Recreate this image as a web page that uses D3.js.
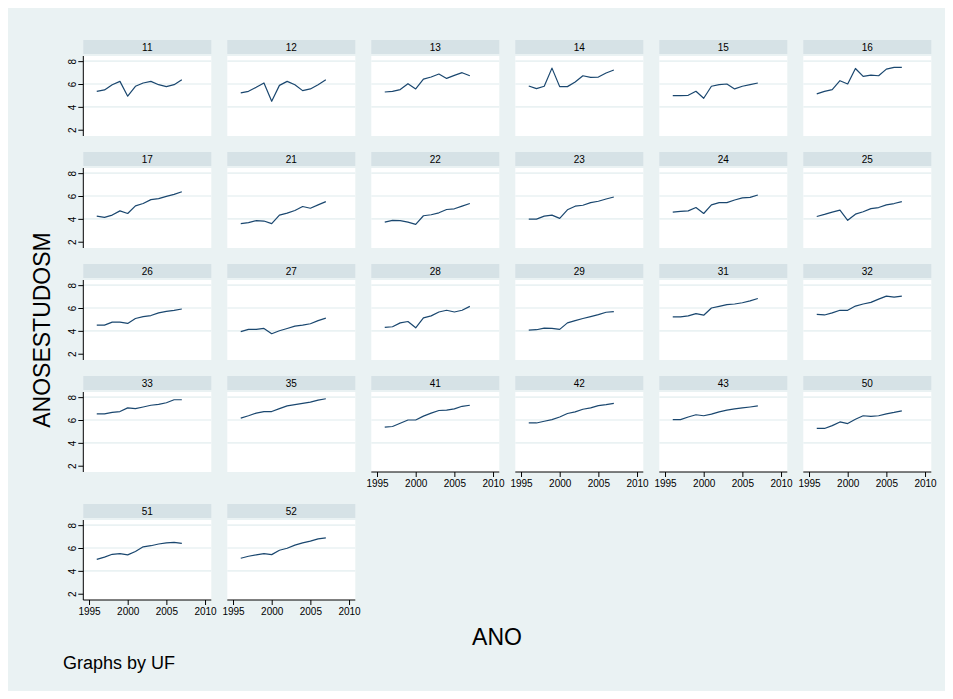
<!DOCTYPE html>
<html>
<head>
<meta charset="utf-8">
<script src="https://cdn.jsdelivr.net/npm/d3@7"></script>
<style>
  html, body { margin: 0; padding: 0; background: #ffffff; }
  svg { display: block; font-family: "Liberation Sans", Arial, sans-serif; }
</style>
</head>
<body>
<svg id="chart" width="953" height="699"></svg>
<script>
// Average years of schooling (ANOSESTUDOSM) by state code (UF), 1996-2007
const years = [1996, 1997, 1998, 1999, 2000, 2001, 2002, 2003, 2004, 2005, 2006, 2007];
const ufCodes = ["11","12","13","14","15","16","17","21","22","23","24","25","26",
                 "27","28","29","31","32","33","35","41","42","43","50","51","52"];

const uf11 = [5.36, 5.48, 5.94, 6.23, 4.93, 5.80, 6.09, 6.23, 5.94, 5.77, 5.94, 6.38];
const uf12 = [5.22, 5.36, 5.71, 6.09, 4.49, 5.88, 6.23, 5.94, 5.42, 5.57, 5.94, 6.38];
const uf13 = [5.30, 5.36, 5.51, 6.03, 5.57, 6.43, 6.61, 6.87, 6.49, 6.75, 6.99, 6.72];
const uf14 = [5.83, 5.59, 5.80, 7.39, 5.77, 5.77, 6.17, 6.72, 6.58, 6.61, 6.96, 7.22];
const uf15 = [4.99, 4.99, 5.01, 5.36, 4.75, 5.80, 5.94, 6.00, 5.57, 5.80, 5.94, 6.09];
const uf16 = [5.13, 5.36, 5.51, 6.29, 6.00, 7.36, 6.67, 6.78, 6.72, 7.30, 7.45, 7.45];
const uf17 = [4.24, 4.13, 4.33, 4.70, 4.47, 5.14, 5.34, 5.68, 5.77, 5.97, 6.14, 6.37];
const uf21 = [3.58, 3.67, 3.84, 3.81, 3.58, 4.33, 4.50, 4.73, 5.08, 4.93, 5.22, 5.51];
const uf22 = [3.72, 3.87, 3.84, 3.72, 3.52, 4.27, 4.36, 4.53, 4.82, 4.88, 5.11, 5.34];
const uf23 = [3.98, 3.98, 4.24, 4.33, 4.04, 4.79, 5.11, 5.19, 5.42, 5.54, 5.74, 5.91];
const uf24 = [4.59, 4.65, 4.70, 4.99, 4.47, 5.22, 5.42, 5.42, 5.65, 5.83, 5.88, 6.09];
const uf25 = [4.21, 4.39, 4.59, 4.76, 3.87, 4.41, 4.62, 4.90, 4.99, 5.22, 5.34, 5.51];
const uf26 = [4.50, 4.50, 4.76, 4.76, 4.65, 5.08, 5.25, 5.34, 5.57, 5.71, 5.80, 5.91];
const uf27 = [3.93, 4.13, 4.13, 4.21, 3.75, 4.01, 4.21, 4.41, 4.50, 4.62, 4.90, 5.11];
const uf28 = [4.30, 4.36, 4.70, 4.82, 4.27, 5.14, 5.31, 5.65, 5.80, 5.65, 5.80, 6.14];
const uf29 = [4.07, 4.10, 4.24, 4.21, 4.13, 4.70, 4.90, 5.08, 5.25, 5.42, 5.63, 5.68];
const uf31 = [5.22, 5.22, 5.31, 5.51, 5.37, 6.00, 6.14, 6.29, 6.35, 6.46, 6.63, 6.83];
const uf32 = [5.45, 5.39, 5.57, 5.80, 5.80, 6.17, 6.35, 6.49, 6.78, 7.04, 6.95, 7.04];
const uf33 = [6.54, 6.54, 6.66, 6.74, 7.06, 7.00, 7.14, 7.29, 7.37, 7.51, 7.77, 7.77];
const uf35 = [6.17, 6.37, 6.60, 6.74, 6.74, 7.00, 7.23, 7.34, 7.46, 7.57, 7.74, 7.86];
const uf41 = [5.37, 5.43, 5.71, 6.00, 6.00, 6.34, 6.60, 6.83, 6.86, 6.97, 7.20, 7.29];
const uf42 = [5.74, 5.74, 5.89, 6.03, 6.26, 6.57, 6.71, 6.94, 7.06, 7.26, 7.34, 7.46];
const uf43 = [6.03, 6.03, 6.26, 6.46, 6.37, 6.51, 6.71, 6.86, 6.97, 7.06, 7.14, 7.23];
const uf50 = [5.26, 5.26, 5.51, 5.83, 5.69, 6.06, 6.37, 6.31, 6.37, 6.54, 6.66, 6.80];
const uf51 = [5.00, 5.20, 5.45, 5.50, 5.40, 5.70, 6.10, 6.20, 6.35, 6.45, 6.50, 6.40];
const uf52 = [5.10, 5.28, 5.40, 5.50, 5.42, 5.80, 5.98, 6.25, 6.45, 6.60, 6.80, 6.88];

const yTicks = [2, 4, 6, 8];
const yGrid = [4, 6, 8];
const xTicks = [1995, 2000, 2005, 2010];

const seriesByUf = [uf11, uf12, uf13, uf14, uf15, uf16, uf17, uf21, uf22, uf23, uf24, uf25, uf26,
                    uf27, uf28, uf29, uf31, uf32, uf33, uf35, uf41, uf42, uf43, uf50, uf51, uf52];

const panels = ufCodes.map((code, i) => ({
  code,
  values: years.map((yr, j) => ({ year: yr, value: seriesByUf[i][j] }))
}));

// ---- layout ----
const W = 953, H = 699;
const nCols = 6;
const colLeft0 = 83.3, colStep = 144, plotW = 128;
const rowTops = [40, 152, 264, 376, 504];
const stripH = 14, stripGap = 2, plotH = 80;

const colors = {
  outer: "#ffffff",
  region: "#eaf2f3",
  strip: "#d6e2e6",
  plot: "#ffffff",
  grid: "#eaf2f3",
  line: "#1a476f",
  axis: "#000000",
  text: "#000000"
};

const svg = d3.select("#chart");
svg.append("rect").attr("width", W).attr("height", H).attr("fill", colors.outer);
svg.append("rect").attr("x", 8).attr("y", 8).attr("width", 937).attr("height", 683)
  .attr("fill", colors.region);

const lineGen = d3.line();

panels.forEach((p, i) => {
  const r = Math.floor(i / nCols), c = i % nCols;
  const left = colLeft0 + colStep * c;
  const stripTop = rowTops[r];
  const plotTop = stripTop + stripH + stripGap;
  const plotBottom = plotTop + plotH;

  const x = d3.scaleLinear().domain([1994.26, 2010.81]).range([left, left + plotW]);
  const y = d3.scaleLinear().domain([1.45, 8.45]).range([plotBottom, plotTop]);

  const g = svg.append("g").attr("class", "panel");

  // strip with the UF code
  g.append("rect").attr("x", left).attr("y", stripTop).attr("width", plotW).attr("height", stripH)
    .attr("fill", colors.strip);
  g.append("text").attr("x", left + plotW / 2).attr("y", stripTop + stripH / 2).attr("dy", "0.36em")
    .attr("text-anchor", "middle").attr("font-size", 10).attr("fill", colors.text).text(p.code);

  // plot region and grid
  g.append("rect").attr("x", left).attr("y", plotTop).attr("width", plotW).attr("height", plotH)
    .attr("fill", colors.plot);
  g.selectAll("line.grid").data(yGrid).join("line").attr("class", "grid")
    .attr("x1", left).attr("x2", left + plotW)
    .attr("y1", d => y(d)).attr("y2", d => y(d))
    .attr("stroke", colors.grid).attr("stroke-width", 1.6);

  // series line
  g.append("path")
    .attr("d", lineGen(p.values.map(d => [x(d.year), y(d.value)])))
    .attr("fill", "none").attr("stroke", colors.line).attr("stroke-width", 1.2)
    .attr("stroke-linejoin", "round");

  // y axis on the first column
  if (c === 0) {
    const ya = d3.axisLeft(y).tickValues(yTicks).tickSize(5).tickPadding(3).tickFormat(d3.format("d"));
    const ag = g.append("g").attr("transform", `translate(${left},0)`).call(ya);
    ag.select(".domain").attr("d", `M0,${plotTop}V${plotBottom}`).attr("stroke", colors.axis);
    ag.selectAll(".tick line").attr("stroke", colors.axis);
    ag.selectAll(".tick text")
      .attr("font-size", 10).attr("font-family", "Liberation Sans, Arial, sans-serif")
      .attr("fill", colors.text)
      .attr("x", null).attr("dy", null)
      .attr("text-anchor", "middle")
      .attr("transform", "translate(-7,0) rotate(-90)");
  }

  // x axis on the bottom panel of each column
  if (i + nCols >= panels.length) {
    const xa = d3.axisBottom(x).tickValues(xTicks).tickSize(5).tickPadding(3).tickFormat(d3.format("d"));
    const ag = g.append("g").attr("transform", `translate(0,${plotBottom})`).call(xa);
    ag.select(".domain").attr("d", `M${left},0H${left + plotW}`).attr("stroke", colors.axis);
    ag.selectAll(".tick line").attr("stroke", colors.axis);
    ag.selectAll(".tick text")
      .attr("font-size", 10).attr("font-family", "Liberation Sans, Arial, sans-serif")
      .attr("fill", colors.text);
  }
});

// axis titles and note
svg.append("text").attr("transform", "translate(50,330) rotate(-90)")
  .attr("text-anchor", "middle").attr("font-size", 23).attr("fill", colors.text).text("ANOSESTUDOSM");
svg.append("text").attr("x", 497).attr("y", 645)
  .attr("text-anchor", "middle").attr("font-size", 23).attr("fill", colors.text).text("ANO");
svg.append("text").attr("x", 63).attr("y", 669)
  .attr("font-size", 18).attr("fill", colors.text).text("Graphs by UF");
</script>
</body>
</html>
